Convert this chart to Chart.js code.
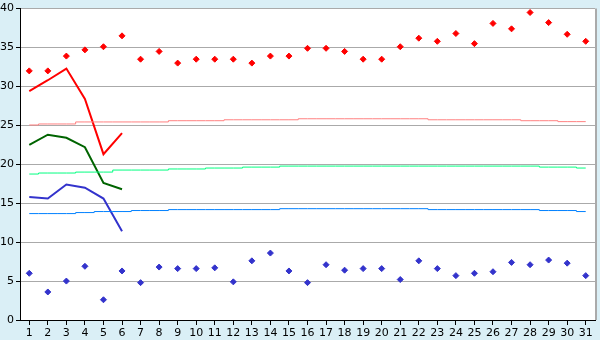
<!DOCTYPE html>
<html>
<head>
<meta charset="utf-8">
<script src="https://cdn.jsdelivr.net/npm/chart.js@4"></script>
<style>
  body { margin: 0; background: #daeff6; }
  canvas { display: block; }
</style>
</head>
<body>
<canvas id="grafik" width="600" height="340"></canvas>
<script>
const days = [];
for (let d = 1; d <= 31; d++) days.push(String(d));

const maxTemp = [32, 32, 33.9, 34.7, 35.1, 36.5, 33.5, 34.5, 33, 33.5, 33.5, 33.5, 33, 33.9, 33.9,
  34.9, 34.9, 34.5, 33.5, 33.5, 35.1, 36.2, 35.8, 36.8, 35.5, 38.1, 37.4, 39.5, 38.2, 36.7, 35.8];
const minTemp = [6, 3.6, 5, 6.9, 2.6, 6.3, 4.8, 6.8, 6.6, 6.6, 6.7, 4.9, 7.6, 8.6, 6.3,
  4.8, 7.1, 6.4, 6.6, 6.6, 5.2, 7.6, 6.6, 5.7, 6, 6.2, 7.4, 7.1, 7.7, 7.3, 5.7];
const fcMax = [29.4, 30.8, 32.3, 28.4, 21.3, 24];
const fcMean = [22.5, 23.8, 23.4, 22.2, 17.6, 16.8];
const fcMin = [15.8, 15.6, 17.4, 17, 15.6, 11.4];
const normMax = [25.05, 25.18, 25.18, 25.44, 25.44, 25.44, 25.44, 25.44, 25.6, 25.6, 25.6, 25.72, 25.72, 25.72, 25.72,
  25.85, 25.85, 25.85, 25.85, 25.85, 25.85, 25.85, 25.72, 25.72, 25.72, 25.72, 25.72, 25.6, 25.6, 25.48, 25.48];
const normMean = [18.75, 18.88, 18.88, 19, 19, 19.26, 19.26, 19.26, 19.4, 19.4, 19.52, 19.52, 19.64, 19.64, 19.77,
  19.77, 19.77, 19.77, 19.77, 19.77, 19.77, 19.77, 19.77, 19.77, 19.77, 19.77, 19.77, 19.77, 19.64, 19.64, 19.52];
const normMin = [13.67, 13.67, 13.67, 13.8, 13.93, 13.93, 14.06, 14.06, 14.18, 14.18, 14.18, 14.18, 14.18, 14.18, 14.3,
  14.3, 14.3, 14.3, 14.3, 14.3, 14.3, 14.3, 14.18, 14.18, 14.18, 14.18, 14.18, 14.18, 14.06, 14.06, 13.93];
const yTicks = [0, 5, 10, 15, 20, 25, 30, 35, 40];

const rahmen = {
  id: 'rahmen',
  beforeDraw(chart) {
    const ctx = chart.ctx;
    const a = chart.chartArea;
    ctx.save();
    ctx.fillStyle = '#daeff6';
    ctx.fillRect(0, 0, chart.width, chart.height);
    ctx.fillStyle = '#ffffff';
    ctx.fillRect(a.left, a.top, a.right - a.left, a.bottom - a.top);
    ctx.restore();
  },
  beforeDatasetsDraw(chart) {
    const ctx = chart.ctx;
    const a = chart.chartArea;
    ctx.save();
    ctx.strokeStyle = '#aaaaaa';
    ctx.lineWidth = 2;
    ctx.beginPath();
    ctx.moveTo(a.right + 1, a.top);
    ctx.lineTo(a.right + 1, a.bottom);
    ctx.stroke();
    ctx.restore();
  }
};

function linie(data, color, width, stepped) {
  return {
    data: data,
    borderColor: color,
    backgroundColor: color,
    borderWidth: width,
    pointRadius: 0,
    stepped: stepped,
    fill: false
  };
}

function punkte(data, color) {
  return {
    data: data,
    showLine: false,
    borderColor: color,
    backgroundColor: color,
    pointStyle: 'rectRot',
    pointRadius: 3,
    pointBorderWidth: 1
  };
}

const data = {
  labels: days,
  datasets: [
    linie(normMax, '#ff8080', 1, 'middle'),
    linie(normMean, '#00ff80', 1, 'middle'),
    linie(normMin, '#0080ff', 1, 'middle'),
    linie(fcMax, '#ff0000', 2, false),
    linie(fcMean, '#006400', 2, false),
    linie(fcMin, '#3333cc', 2, false),
    punkte(maxTemp, '#ff0000'),
    punkte(minTemp, '#3333cc')
  ]
};

const config = {
  type: 'line',
  data: data,
  options: {
    responsive: false,
    animation: false,
    layout: { padding: { top: 5, right: 5, left: 0, bottom: 0 } },
    plugins: {
      legend: { display: false },
      tooltip: { enabled: false }
    },
    scales: {
      x: {
        offset: true,
        afterFit(scale) { scale.height = 20; },
        border: { color: '#000000', width: 1 },
        grid: { drawOnChartArea: false, tickLength: 5, tickColor: '#000000' },
        ticks: {
          color: '#000000',
          padding: 2,
          maxRotation: 0,
          autoSkip: false,
          font: { family: 'DejaVu Sans', size: 11 }
        }
      },
      y: {
        min: 0,
        max: 40,
        afterFit(scale) { scale.width = 20; },
        afterBuildTicks(scale) { scale.ticks = yTicks.map(v => ({ value: v })); },
        border: { color: '#000000', width: 1 },
        grid: { color: '#aaaaaa', lineWidth: 1, tickLength: 4, tickColor: '#000000' },
        ticks: {
          color: '#000000',
          padding: 2,
          font: { family: 'DejaVu Sans', size: 11 }
        }
      }
    }
  },
  plugins: [rahmen]
};

const myChart = new Chart(document.getElementById('grafik'), config);
</script>
</body>
</html>
